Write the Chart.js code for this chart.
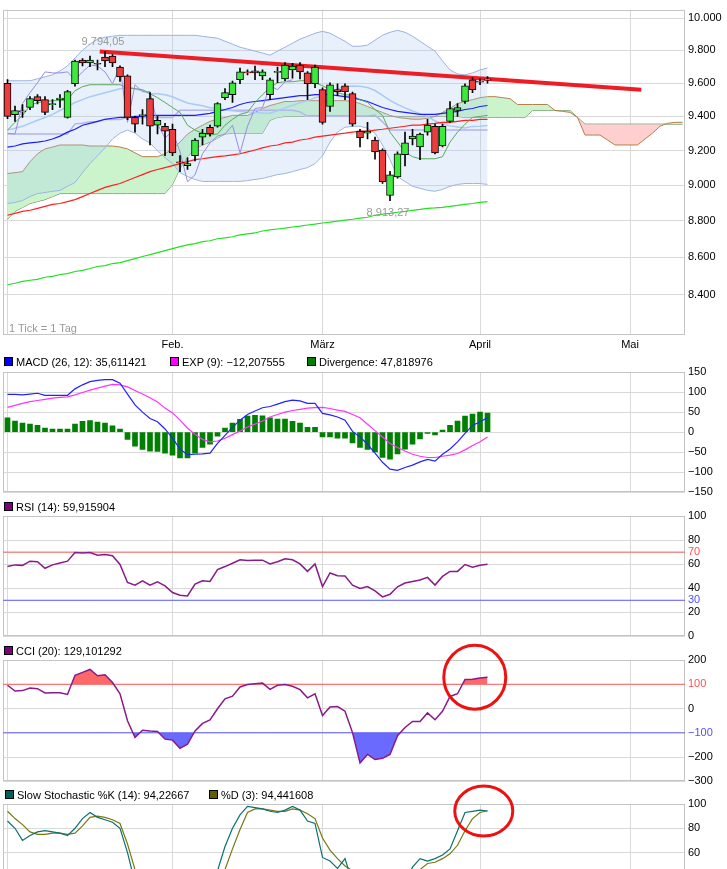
<!DOCTYPE html>
<html><head><meta charset="utf-8">
<script src="https://cdn.jsdelivr.net/npm/chart.js@4/dist/chart.umd.min.js"></script>
<style>
html,body{margin:0;padding:0;background:#fff;overflow:hidden;width:727px;height:869px;position:relative;}
canvas{position:absolute;left:0;}
.lg{position:absolute;font:11px "Liberation Sans",Arial,sans-serif;color:#000;white-space:nowrap;height:13px;display:flex;align-items:center;}
.sq{display:inline-block;width:7px;height:7px;border:1px solid #000;margin-right:3px;}
.note{position:absolute;font:11px "Liberation Sans",Arial,sans-serif;color:#999;white-space:nowrap;}
</style></head><body>
<canvas id="cMain" width="727" height="352" style="top:0"></canvas>
<canvas id="cMacd" width="727" height="150" style="top:352px"></canvas>
<canvas id="cRsi" width="727" height="149" style="top:497px"></canvas>
<canvas id="cCci" width="727" height="150" style="top:641px"></canvas>
<canvas id="cSto" width="727" height="153" style="top:782px"></canvas>

<div class="note" style="left:9px;top:322px">1 Tick = 1 Tag</div>
<div class="lg" style="left:4px;top:355px"><span class="sq" style="background:#0000ff"></span>MACD (26, 12): 35,611421</div>
<div class="lg" style="left:170px;top:355px"><span class="sq" style="background:#ff00ff"></span>EXP (9): −12,207555</div>
<div class="lg" style="left:307px;top:355px"><span class="sq" style="background:#008000"></span>Divergence: 47,818976</div>
<div class="lg" style="left:4px;top:500px"><span class="sq" style="background:#800080"></span>RSI (14): 59,915904</div>
<div class="lg" style="left:4px;top:644px"><span class="sq" style="background:#800080"></span>CCI (20): 129,101292</div>
<div class="lg" style="left:5px;top:788px"><span class="sq" style="background:#006060"></span>Slow Stochastic %K (14): 94,22667</div>
<div class="lg" style="left:209px;top:788px"><span class="sq" style="background:#606000"></span>%D (3): 94,441608</div>

<script>
// ---------- DATA ----------
const dates = ['02.01','03.01','06.01','07.01','08.01','09.01','10.01','13.01','14.01','15.01','16.01','17.01','20.01','21.01','22.01','23.01','24.01','27.01','28.01','29.01','30.01','31.01',
 '03.02','04.02','05.02','06.02','07.02','10.02','11.02','12.02','13.02','14.02','17.02','18.02','19.02','20.02','21.02','24.02','25.02','26.02','27.02','28.02',
 '03.03','04.03','05.03','06.03','07.03','10.03','11.03','12.03','13.03','14.03','17.03','18.03','19.03','20.03','21.03','24.03','25.03','26.03','27.03','28.03','31.03',
 '01.04','02.04'];
const openP = [9598,9410,9427,9453,9518,9500,9470,9500,9394,9596,9741,9723,9717,9759,9765,9698,9644,9394,9405,9506,9348,9342,9324,9130,9112,9170,9278,9336,9342,9512,9530,9620,9665,9674,9644,9530,9665,9626,9680,9710,9662,9596,9560,9459,9560,9584,9536,9313,9301,9261,9203,8942,9048,9175,9267,9220,9307,9342,9226,9371,9435,9489,9620,9605,9618];
const highP = [9621,9462,9471,9518,9530,9519,9500,9530,9556,9741,9750,9765,9740,9794.05,9775,9705,9650,9400,9440,9542,9400,9359,9354,9170,9158,9270,9324,9348,9483,9566,9612,9692,9680,9704,9680,9630,9698,9725,9720,9725,9670,9710,9572,9602,9596,9596,9545,9324,9365,9278,9210,9080,9192,9307,9324,9301,9383,9354,9354,9489,9477,9596,9632,9626,9640];
const lowP = [9386,9371,9394,9440,9474,9410,9440,9453,9390,9582,9705,9700,9680,9700,9700,9610,9380,9307,9354,9232,9296,9170,9170,9078,9090,9140,9232,9284,9336,9500,9483,9596,9650,9620,9620,9500,9602,9615,9630,9626,9500,9572,9354,9430,9524,9500,9342,9220,9267,9150,9010,8913.27,9040,9110,9232,9147,9290,9180,9220,9365,9400,9477,9542,9590,9600];
const closeP = [9400,9435,9428,9506,9494,9424,9473,9510,9548,9735,9723,9741,9715,9735,9723,9638,9394,9354,9408,9342,9377,9313,9186,9128,9124,9261,9301,9296,9477,9542,9602,9668,9662,9662,9668,9620,9668,9710,9704,9668,9596,9698,9365,9590,9548,9548,9354,9273,9313,9192,9020,9060,9181,9244,9284,9296,9348,9186,9342,9447,9453,9584,9560,9608,9620];

const bbUpper = [9614,9614,9614,9614,9626,9638,9650,9674,9705,9753,9802,9839,9870,9882,9888,9894,9894,9894,9894,9894,9894,9894,9894,9894,9894,9894,9888,9882,9876,9857,9839,9820,9808,9796,9784,9771,9796,9820,9845,9870,9888,9907,9919,9907,9882,9857,9826,9826,9833,9864,9894,9913,9925,9913,9888,9857,9826,9796,9735,9680,9656,9650,9662,9680,9692];
const bbMiddle = [9319,9330,9342,9359,9377,9394,9412,9435,9459,9483,9500,9518,9530,9542,9554,9566,9572,9566,9554,9536,9535,9529,9517,9498,9480,9471,9463,9452,9449,9439,9433,9429,9427,9423,9420,9419,9433,9451,9466,9482,9493,9512,9521,9544,9565,9580,9582,9581,9573,9555,9526,9496,9472,9451,9432,9416,9400,9373,9355,9344,9337,9331,9341,9342,9346];
const bbLower = [8897,8903,8914,8936,8953,8959,8966,8971,8994,9016,9072,9124,9169,9215,9267,9301,9319,9301,9267,9244,9198,9158,9124,9072,9050,9033,9022,9022,9022,9022,9022,9022,9027,9033,9039,9050,9061,9067,9078,9090,9101,9124,9169,9249,9307,9336,9342,9342,9330,9301,9232,9147,9050,9022,8994,8983,8971,8966,8977,8994,9005,9010,9010,9010,9005];
const smaBlue = [9220,9226,9238,9244,9249,9255,9267,9284,9307,9324,9348,9359,9371,9383,9389,9394,9394,9400,9400,9406,9406,9406,9406,9406,9406,9406,9412,9418,9430,9441,9453,9471,9483,9489,9494,9500,9506,9512,9518,9524,9524,9530,9530,9530,9524,9518,9512,9500,9489,9471,9453,9441,9430,9424,9418,9412,9412,9412,9418,9424,9430,9441,9447,9459,9465];
const smaRed = [8831,8842,8853,8859,8870,8881,8892,8897,8908,8919,8936,8953,8971,8988,8999,9010,9027,9044,9061,9078,9090,9101,9112,9124,9135,9147,9152,9158,9164,9169,9175,9181,9192,9203,9215,9226,9232,9244,9249,9261,9267,9278,9284,9290,9296,9301,9307,9313,9313,9319,9324,9330,9336,9342,9348,9348,9354,9359,9365,9365,9371,9377,9377,9383,9383];
const smaGreen = [8452,8460,8470,8476,8481,8492,8497,8507,8512,8523,8529,8539,8550,8555,8566,8571,8582,8593,8604,8614,8625,8636,8647,8658,8668,8674,8685,8690,8701,8706,8712,8722,8728,8733,8744,8750,8755,8760,8766,8771,8777,8782,8788,8793,8799,8804,8809,8815,8820,8831,8837,8842,8848,8853,8859,8864,8870,8872,8875,8881,8886,8892,8897,8903,8908];
const tenkan = [9319,9365,9406,9465,9483,9489,9494,9494,9500,9554,9578,9590,9590,9590,9590,9590,9572,9566,9560,9536,9512,9483,9453,9424,9348,9319,9301,9290,9296,9348,9383,9412,9424,9483,9530,9572,9602,9608,9608,9614,9614,9602,9584,9560,9542,9530,9524,9500,9483,9441,9406,9307,9249,9192,9164,9152,9152,9152,9164,9249,9307,9354,9394,9400,9406];
const kijun = [9296,9296,9296,9296,9296,9296,9296,9296,9296,9356,9360,9368,9368,9382,9382,9382,9394,9394,9394,9394,9394,9394,9394,9436,9436,9436,9436,9436,9436,9436,9436,9436,9436,9436,9436,9436,9436,9436,9436,9427,9402,9402,9402,9402,9402,9402,9402,9402,9402,9408,9368,9319,9319,9319,9319,9319,9319,9319,9319,9319,9319,9319,9319,9319,9319];
const chikou = [9301,9296,9477,9542,9602,9668,9662,9662,9668,9620,9668,9710,9704,9668,9596,9698,9365,9590,9548,9548,9354,9273,9313,9192,9020,9060,9181,9244,9284,9296,9348,9186,9342,9447,9453,9584,9560,9608,9620];
const spanA = [9067,9072,9078,9135,9181,9209,9220,9232,9232,9232,9232,9226,9226,9226,9226,9220,9209,9186,9164,9164,9164,9181,9209,9249,9296,9324,9348,9371,9383,9394,9406,9406,9406,9424,9447,9465,9477,9489,9489,9494,9494,9494,9494,9494,9494,9494,9489,9477,9459,9441,9424,9406,9394,9389,9383,9383,9389,9400,9424,9447,9477,9489,9500,9512,9518,9518,9512,9506,9471,9471,9471,9471,9471,9435,9430,9424,9394,9290,9290,9290,9261,9232,9232,9232,9232,9267,9301,9342,9359,9365,9365];
const spanB = [8809,8853,8875,8897,8908,8919,8936,8953,8953,8953,8953,8953,8953,8953,8953,8953,8953,8953,8953,8953,8953,8953,9005,9096,9164,9209,9232,9249,9272,9296,9301,9301,9301,9301,9301,9377,9394,9400,9400,9400,9406,9406,9406,9406,9406,9406,9400,9400,9400,9400,9400,9400,9400,9400,9400,9400,9400,9400,9400,9400,9400,9394,9394,9394,9394,9394,9394,9394,9394,9394,9435,9435,9435,9435,9435,9435,9394,9354,9354,9354,9354,9354,9354,9354,9354,9354,9354,9354,9354,9354,9354];
const trendIdx = [12.3, 84.5];
const trendVal = [9794.05, 9560];

const macdLine = [94,94,93,95,97,92,92,92,92,108,118,126,129,131,131,122,95,68,50,34,26,8,-15,-42,-56,-55,-54,-52,-28,-8,12,30,44,53,61,64,70,76,80,78,72,72,47,43,38,30,2,-12,-30,-52,-75,-92,-95,-88,-82,-74,-68,-72,-55,-42,-24,-3,17,26,35.61];
const signalLine = [62,67,72,76,79,82,85,87,88,93,99,105,110,115,119,118,113,104,95,86,75,60,48,30,10,-5,-18,-24,-22,-15,-6,3,13,20,28,38,44,50,54,57,60,61,62,59,55,52,44,36,20,4,-12,-28,-38,-47,-55,-60,-63,-63,-60,-57,-53,-44,-33,-24,-12.21];
const macdHist = [36,28,23,20,17,10,8,8,8,20,27,29,25,23,16,8,-18,-35,-43,-47,-48,-52,-57,-64,-64,-52,-38,-30,-10,10,23,32,40,42,41,36,33,33,27,23,12,12,-12,-12,-15,-15,-27,-38,-43,-49,-63,-67,-54,-42,-30,-17,-3,-7,5,17,28,40,45,50,47.82];
const rsi = [58,59.4,59,62.5,62,56.6,59.4,61,62.5,69.7,69.2,69.7,67.5,68,67,59.7,44.8,42.6,46.2,42.6,45.4,42,36.4,34.2,33.6,43.4,46.2,45.7,55.5,58,60.8,63.6,63,63.3,63.3,60.2,62,64.4,63.6,60.2,54,60.2,41.4,52.7,50.4,50.1,42.6,39.8,41.4,37.8,32.8,35,41.2,44.3,45.6,46.8,49,42.6,49.8,54,54,59.7,57.4,59.1,59.92];
const cci = [96,72,74,85,82,64,65,65,58,137,149,161,135,139,107,61,-50,-119,-89,-92,-94,-126,-130,-164,-147,-92,-61,-47,-1,40,51,89,99,102,105,79,96,99,92,78,44,61,-29,6,8,-11,-99,-224,-189,-210,-205,-189,-112,-78,-53,-53,-18,-46,-11,50,61,120,121,126,129.1];
const stochK = [86,80,70,74,77,78,77,76,74,80,88,93,89,87,85,80,60,35,22,15,12,10,8,5,6,15,22,28,45,65,80,91,98,97,96,94,93,95,98,95,86,84,56,53,47,55,35,28,20,12,6,10,22,35,48,55,53,55,58,63,78,93,94,95,94.23];
const stochD = [94,88,83,77,75,75,76,76,75,76,82,89,90,89,87,84,67,46,35,22,15,12,10,8,6,9,14,22,32,46,63,79,93,96,96,95,94,94,96,95,92,88,72,62,55,49,45,38,28,20,13,9,13,22,35,46,51,52,55,59,66,78,88,93,94.44];

const priceTicks = [8400,8600,8800,9000,9200,9400,9600,9800,10000];
const macdTicks = [-150,-100,-50,0,50,100,150];
const rsiTicks = [0,20,30,40,60,70,80,100];
const cciTicks = [-300,-200,-100,0,100,200];
const stochTicks = [0,20,40,60,80,100];
const monthIdx = [0,22,42,63,83];
const monthLabels = ['','Feb.','März','April','Mai'];

// ---------- HELPERS ----------
const FONT = {family:'"Liberation Sans", Arial, sans-serif', size:11};
const GRID = '#d9d9d9';
const xy = (arr, off=0) => arr.map((v,i)=>({x:i+off, y:v}));
const hline = (v) => [{x:-0.6,y:v},{x:90.33,y:v}];
const minus = v => v < 0 ? '\u2212' + Math.abs(v) : String(v);
const deNum = (v, dec) => { const s = v.toFixed(dec).split('.'); const i = s[0].replace(/\B(?=(\d{3})+(?!\d))/g,'.'); return dec ? i + ',' + s[1] : i; };

function xScale(show){
  return {type:'linear', min:-0.6, max:90.33, offset:false,
    afterBuildTicks: s => { s.ticks = monthIdx.map(v=>({value:v})); },
    afterFit: s => { s.height = show ? 17 : 0; },
    grid:{color:GRID, drawTicks:false, offset:false},
    border:{display:false},
    ticks:{display:show, autoSkip:false, maxRotation:0, padding:3, font:FONT, color:'#000',
      callback: v => { const k = monthIdx.indexOf(v); return k >= 0 ? monthLabels[k] : ''; }}
  };
}
function yScale(type, min, max, ticks, fmt, colorFn){
  return {type, position:'right', min, max,
    afterBuildTicks: s => { s.ticks = ticks.map(v=>({value:v})); },
    afterFit: s => { s.width = 42; },
    grid:{color:GRID, drawTicks:false},
    border:{display:false},
    ticks:{autoSkip:false, padding:3, font:FONT, color: colorFn || '#000', callback: fmt}
  };
}
const frame = {id:'frame', beforeDatasetsDraw(c){
  const a = c.chartArea, g = c.ctx; g.save(); g.strokeStyle = '#c4c4c4'; g.lineWidth = 1;
  g.strokeRect(Math.round(a.left)+0.5, Math.round(a.top)+0.5, Math.round(a.right-a.left)-1, Math.round(a.bottom-a.top)-1);
  g.restore(); }};
function baseOpts(scales, pad){
  return {responsive:false, animation:false, events:[], layout:{padding:pad},
    plugins:{legend:{display:false}, tooltip:{enabled:false}}, scales};
}
const line = (data, color, w=1, extra={}) => Object.assign({type:'line', data, borderColor:color, borderWidth:w, pointRadius:0, tension:0, fill:false}, extra);

// ---------- MAIN PRICE CHART ----------
const hiIdx = highP.indexOf(Math.max(...highP));
const loIdx = lowP.indexOf(Math.min(...lowP));
const extremes = {id:'extremes', afterDatasetsDraw(c){
  const x = c.scales.x, y = c.scales.y, g = c.ctx;
  g.save(); g.font = '11px "Liberation Sans", Arial, sans-serif'; g.fillStyle = '#9a9a9a'; g.textAlign = 'center'; g.textBaseline = 'middle';
  g.fillText(deNum(highP[hiIdx],2), x.getPixelForValue(hiIdx)-2, y.getPixelForValue(highP[hiIdx])-9);
  g.fillText(deNum(lowP[loIdx],2), x.getPixelForValue(loIdx)-2, y.getPixelForValue(lowP[loIdx])+12);
  g.restore(); }};

const BBFILL = 'rgba(170,200,240,0.28)';
new Chart(document.getElementById('cMain'), {
  data:{datasets:[
    {type:'bar', data: openP.map((o,i)=>({x:i, y:[o, closeP[i]]})), grouped:false, barThickness:7, minBarLength:1,
      backgroundColor: openP.map((o,i)=> closeP[i] >= o ? '#3cea3c' : '#ec3c3c'), borderColor:'#000', borderWidth:1, borderSkipped:false, order:0},
    {type:'bar', data: lowP.map((l,i)=>({x:i, y:[l, highP[i]]})), grouped:false, barThickness:1, backgroundColor:'#000', borderWidth:0, order:1},
    line(trendIdx.map((t,i)=>({x:t, y:trendVal[i]})), '#ee1c24', 4, {order:2}),
    line(xy(chikou), '#9a8ce0', 1, {order:3}),
    line(xy(tenkan), '#5aaa5a', 1, {order:3}),
    line(xy(smaBlue), '#1e1eff', 1.2, {order:3}),
    line(xy(smaRed), '#ff2020', 1.2, {order:3}),
    line(xy(smaGreen), '#22e022', 1.2, {order:3}),
    line(xy(bbMiddle), '#a9cbf4', 1.5, {order:4}),
    line(xy(bbUpper), '#9db2e2', 1, {order:5, fill:10, backgroundColor:BBFILL}),
    line(xy(bbLower), '#9db2e2', 1, {order:5}),
    line(xy(spanA), '#b57f4a', 1, {order:6, fill:{target:12, above:'rgb(204,244,204)', below:'rgb(255,206,206)'}}),
    line(xy(spanB), '#4f8f4f', 1, {order:6}),
    line(xy(kijun), '#b4b4ee', 1.5, {order:4})
  ]},
  options: baseOpts({x:xScale(true), y:yScale('logarithmic', 8188, 10056, priceTicks, v => deNum(v,0))}, {left:3, top:6, right:0, bottom:0}),
  plugins:[frame, extremes]
});

// ---------- MACD ----------
new Chart(document.getElementById('cMacd'), {
  data:{datasets:[
    line(xy(macdLine), '#2222ff', 1.2, {order:0}),
    line(xy(signalLine), '#ff33ff', 1.2, {order:1}),
    {type:'bar', data: xy(macdHist), grouped:false, barThickness:5, backgroundColor:'#008000', borderWidth:0, order:2}
  ]},
  options: baseOpts({x:xScale(false), y:yScale('linear', -150, 150, macdTicks, minus)}, {left:3, top:20, right:0, bottom:1}),
  plugins:[frame]
});

// ---------- RSI ----------
new Chart(document.getElementById('cRsi'), {
  data:{datasets:[
    line(xy(rsi), '#8a1a8a', 1.5, {order:0}),
    line(hline(70), '#ff6060', 1, {order:1}),
    line(hline(30), '#6060ff', 1, {order:1})
  ]},
  options: baseOpts({x:xScale(false), y:yScale('linear', 0, 100, rsiTicks, minus,
      c => c.tick && c.tick.value === 70 ? '#ff5050' : (c.tick && c.tick.value === 30 ? '#5050ff' : '#000'))},
    {left:3, top:19, right:0, bottom:1}),
  plugins:[frame]
});

// ---------- CCI ----------
function ringPlugin(id, series, dIdx, rx, ry){
  return {id, afterDraw(c){
    const last = series.length - 1, x = c.scales.x, y = c.scales.y, g = c.ctx;
    g.save(); g.strokeStyle = '#ee1111'; g.lineWidth = 3; g.beginPath();
    g.ellipse(x.getPixelForValue(last + dIdx), y.getPixelForValue(series[last]), rx, ry, 0, 0, Math.PI*2);
    g.stroke(); g.restore(); }};
}
new Chart(document.getElementById('cCci'), {
  data:{datasets:[
    line(xy(cci), '#8a1a8a', 1.5, {order:0}),
    line(xy(cci), 'rgba(0,0,0,0)', 0, {order:3, fill:{value:100, above:'#ff6868', below:'rgba(0,0,0,0)'}}),
    line(xy(cci), 'rgba(0,0,0,0)', 0, {order:3, fill:{value:-100, above:'rgba(0,0,0,0)', below:'#6a6aff'}}),
    line(hline(100), '#ff6060', 1, {order:2}),
    line(hline(-100), '#6060ff', 1, {order:2})
  ]},
  options: baseOpts({x:xScale(false), y:yScale('linear', -300, 200, cciTicks, minus,
      c => c.tick && c.tick.value === 100 ? '#ff5050' : (c.tick && c.tick.value === -100 ? '#5050ff' : '#000'))},
    {left:3, top:19, right:0, bottom:1}),
  plugins:[frame, ringPlugin('ringCci', cci, -1.7, 31, 32)]
});

// ---------- SLOW STOCHASTIC ----------
new Chart(document.getElementById('cSto'), {
  data:{datasets:[
    line(xy(stochK), '#0a7070', 1.2, {order:0}),
    line(xy(stochD), '#787810', 1.2, {order:1})
  ]},
  options: baseOpts({x:xScale(false), y:yScale('linear', 0, 100, stochTicks, minus)}, {left:3, top:22, right:0, bottom:1}),
  plugins:[frame, ringPlugin('ringSto', stochK, -0.5, 29, 25)]
});
</script>
</body></html>
